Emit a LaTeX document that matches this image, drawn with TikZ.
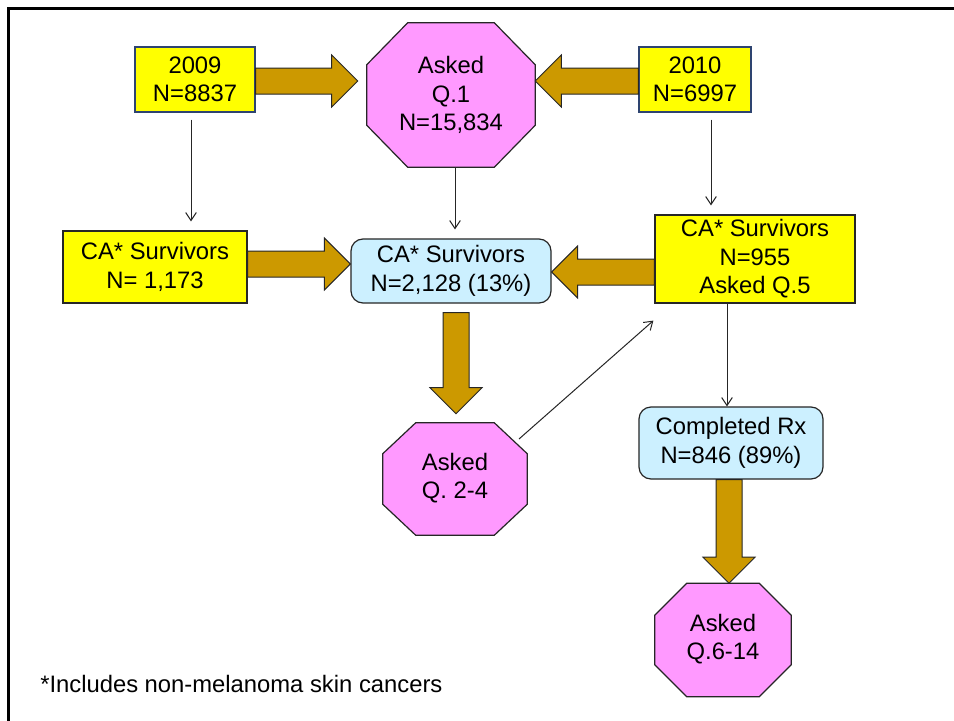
\documentclass[tikz,border=0pt]{standalone}
\usepackage{fontspec}
\setmainfont{Liberation Sans}
\usetikzlibrary{calc,arrows.meta,backgrounds}
\definecolor{boxyellow}{HTML}{FFFF00}
\definecolor{navyedge}{HTML}{2E4470}
\definecolor{octpink}{HTML}{FF99FF}
\definecolor{paleblue}{HTML}{CCF0FF}
\definecolor{goldarrow}{HTML}{CC9900}
\newcommand\blkarrow[2]{%
  \coordinate (bah) at ($(#2)!19.5pt!(#1)$);
  \draw[bigarrow] ($(#1)!9.75pt!90:(#2)$) -- ($(bah)!9.75pt!90:(#2)$) -- ($(bah)!19.5pt!90:(#2)$) -- (#2) -- ($(bah)!19.5pt!-90:(#2)$) -- ($(bah)!9.75pt!-90:(#2)$) -- ($(#1)!9.75pt!-90:(#2)$) -- cycle;}
\newcommand\octpath[3]{%
  \path[octline] ($(#1.north west)+(#2,0)$) -- ($(#1.north east)+(-#2,0)$) -- ($(#1.north east)+(0,#3)$) -- ($(#1.south east)+(0,-#3)$) -- ($(#1.south east)+(-#2,0)$) -- ($(#1.south west)+(#2,0)$) -- ($(#1.south west)+(0,-#3)$) -- ($(#1.north west)+(0,#3)$) -- cycle;}
\tikzset{
  txt/.style={font=\fontsize{17.85}{21.4}\selectfont, align=center, inner sep=0pt},
  yearbox/.style={txt, rectangle, fill=boxyellow, draw=navyedge, line width=0.9pt},
  ybox/.style={txt, rectangle, fill=boxyellow, draw=black!85, line width=0.9pt},
  bbox/.style={txt, rectangle, rounded corners=9pt, fill=paleblue, draw=black!85, line width=0.9pt},
  octo/.style={txt, rectangle},
  octline/.style={fill=octpink, draw=black!85, line width=0.9pt, line join=miter},
  bigarrow/.style={fill=goldarrow, draw=black!85, line width=0.75pt, line join=miter},
  thinarrow/.style={draw=black!85, line width=0.75pt, -{Straight Barb[length=6pt,width=8pt]}},
}
\begin{document}
\begin{tikzpicture}[x=0.75pt, y=-0.75pt]
\useasboundingbox (0,0) rectangle (954,721);

\node[yearbox, minimum width=90pt, minimum height=48.75pt] (n2009) at (195,79.5) {2009\\N=8837};
\node[yearbox, minimum width=84pt, minimum height=48.75pt] (n2010) at (695,79.5) {2010\\N=6997};
\node[octo, minimum width=126pt, minimum height=108pt] (q1) at (451,95) {Asked\\Q.1\\N=15,834};
\node[ybox, minimum width=138pt, minimum height=54pt] (s1) at (155,267) {CA* Survivors\\N= 1,173};
\node[bbox, minimum width=150pt, minimum height=48pt] (s2) at (451,271) {CA* Survivors\\N=2,128 (13\%)};
\node[ybox, minimum width=150pt, minimum height=66pt] (s3) at (755,259) {CA* Survivors\\N=955\\Asked Q.5};
\node[octo, minimum width=108pt, minimum height=84pt] (q24) at (455,479) {\raisebox{3pt}{\begin{tabular}{@{}c@{}}Asked\\Q. 2-4\end{tabular}}};
\node[bbox, minimum width=138pt, minimum height=54pt] (rx) at (731,443) {Completed Rx\\N=846 (89\%)};
\node[octo, minimum width=102pt, minimum height=84.75pt] (q614) at (723,640) {\raisebox{3pt}{\begin{tabular}{@{}c@{}}Asked\\Q.6-14\end{tabular}}};
\node[txt, anchor=base west] (note) at (40,692) {*Includes non-melanoma skin cancers};

\begin{scope}[on background layer]
\fill[white] (0,0) rectangle (954,721);
\octpath{q1}{41}{42}
\octpath{q24}{33}{31}
\octpath{q614}{32}{32}
\end{scope}
\draw[line width=2.25pt] (8,721) -- (8,8) -- (960,8);

% block arrows
\coordinate (b1s) at ($(n2009.east)+(0,1.5)$);
\coordinate (b1e) at ($(q1.west |- n2009.east)+(-9,1.5)$);
\blkarrow{b1s}{b1e}
\coordinate (b2s) at ($(n2010.west)+(0,1.5)$);
\coordinate (b2e) at ($(q1.east |- n2010.west)+(0,1.5)$);
\blkarrow{b2s}{b2e}
\coordinate (b3s) at ($(s1.east)+(0,-3)$);
\coordinate (b3e) at ($(s2.west |- s1.east)+(0,-3)$);
\blkarrow{b3s}{b3e}
\coordinate (b4s) at ($(s3.west |- s2.east)+(0,1)$);
\coordinate (b4e) at ($(s2.east)+(0,1)$);
\blkarrow{b4s}{b4e}
\coordinate (b5s) at ($(s2.south -| q24.north)+(1,9)$);
\coordinate (b5e) at ($(q24.north)+(1,-9)$);
\blkarrow{b5s}{b5e}
\coordinate (b6s) at ($(rx.south)+(-2,0)$);
\coordinate (b6e) at ($(q614.north -| rx.south)+(-2,0)$);
\blkarrow{b6s}{b6e}

% thin arrows
\coordinate (t1s) at ($(n2009.south)+(-4,7)$);
\coordinate (t1e) at ($(t1s |- s1.north)+(0,-9)$);
\draw[thinarrow] (t1s) -- (t1e);
\coordinate (t2s) at ($(q1.south)+(4,0)$);
\coordinate (t2e) at ($(t2s |- s2.north)+(0,-9)$);
\draw[thinarrow] (t2s) -- (t2e);
\coordinate (t3s) at ($(n2010.south)+(16,7)$);
\coordinate (t3e) at ($(t3s |- s3.north)+(0,-9)$);
\draw[thinarrow] (t3s) -- (t3e);
\coordinate (t4s) at ($(q24.center)+(64,-40)$);
\coordinate (t4e) at ($(s3.south west)+(-1,17)$);
\draw[thinarrow] (t4s) -- (t4e);
\coordinate (t5s) at ($(s3.south)+(-28,0)$);
\coordinate (t5e) at (t5s |- rx.north);
\draw[thinarrow] (t5s) -- (t5e);
\end{tikzpicture}
\end{document}
